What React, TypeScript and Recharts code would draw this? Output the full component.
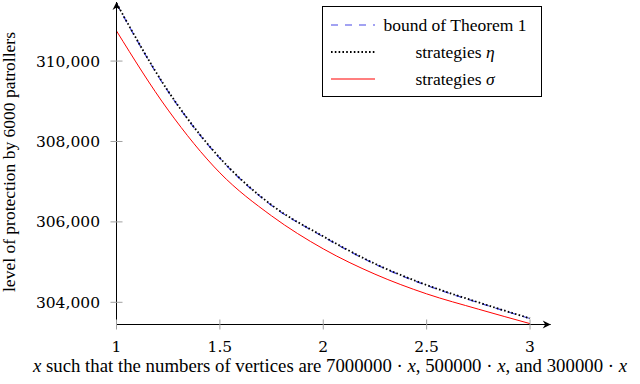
import { LineChart, Line, XAxis, YAxis } from "recharts"

const xValues = [1, 1.25, 1.5, 1.75, 2, 2.25, 2.5, 2.75, 3]
const boundValues = [311430, 309240, 307580, 306410, 305630, 304950, 304420, 303990, 303595]
const etaValues = [311440, 309250, 307590, 306420, 305640, 304960, 304430, 304000, 303600]
const sigmaValues = [310750, 308780, 307220, 306150, 305330, 304700, 304210, 303830, 303470]

const xTicks = [1, 1.5, 2, 2.5, 3]
const yTicks = [304000, 306000, 308000, 310000]

const data = xValues.map((x, i) => ({
  x,
  bound: boundValues[i],
  eta: etaValues[i],
  sigma: sigmaValues[i],
}))

const serif = "'Liberation Serif', 'Times New Roman', serif"
const tickFont = "'DejaVu Serif', serif"

const XTick = (props: any) => {
  const { x, y, payload } = props
  return (
    <g>
      <line x1={x} x2={x} y1={y - 5} y2={y + 5} stroke="#a0a0a0" strokeWidth={1} />
      <text x={x} y={y + 27.5} textAnchor="middle" fontFamily={tickFont} fontSize={15.5} fill="#000">
        {payload.value}
      </text>
    </g>
  )
}

const YTick = (props: any) => {
  const { x, y, payload } = props
  return (
    <g>
      <line x1={x - 6} x2={x + 6} y1={y} y2={y} stroke="#a0a0a0" strokeWidth={1} />
      <text x={x - 16.5} y={y + 5.5} textAnchor="end" fontFamily={tickFont} fontSize={15.5} fill="#000">
        {payload.value.toLocaleString("en-US")}
      </text>
    </g>
  )
}

const legendItems = [
  { label: <>bound of Theorem 1</>, stroke: "#4646e6", dash: "7 7", width: 1.2 },
  { label: <>strategies <tspan fontStyle="italic">η</tspan></>, stroke: "#000", dash: "1.6 2.2", width: 1.8 },
  { label: <>strategies <tspan fontStyle="italic">σ</tspan></>, stroke: "#ff0000", dash: undefined, width: 1.2 },
]

export default function App() {
  return (
    <div style={{ position: "relative", width: 640, height: 384, background: "#fff" }}>
      <style>{"body{margin:0}"}</style>
      <LineChart width={640} height={384} data={data} margin={{ top: 2, right: 89.3, bottom: 19.5, left: 16.5 }}>
        <defs>
          <marker id="arrowhead" markerWidth="12" markerHeight="12" refX="9" refY="5" orient="auto-start-reverse" markerUnits="userSpaceOnUse">
            <path d="M1,1 L9,5 L1,9 L3.5,5 Z" fill="#000" />
          </marker>
        </defs>
        <XAxis
          dataKey="x"
          type="number"
          domain={[1, 3.1]}
          ticks={xTicks}
          allowDataOverflow
          height={40}
          tickLine={false}
          tickSize={0}
          tickMargin={0}
          tick={XTick}
          axisLine={{ stroke: "#000", strokeWidth: 1, markerEnd: "url(#arrowhead)" }}
        />
        <YAxis
          type="number"
          domain={[303448, 311469]}
          ticks={yTicks}
          allowDataOverflow
          width={100}
          tickLine={false}
          tickSize={0}
          tickMargin={0}
          tick={YTick}
          axisLine={{ stroke: "#000", strokeWidth: 1, markerStart: "url(#arrowhead)" }}
        />
        <Line type="monotone" dataKey="bound" stroke="#4646e6" strokeWidth={1.2} strokeDasharray="7 7" dot={false} isAnimationActive={false} />
        <Line type="monotone" dataKey="eta" stroke="#000" strokeWidth={1.8} strokeDasharray="1.6 2.2" dot={false} isAnimationActive={false} />
        <Line type="monotone" dataKey="sigma" stroke="#ff0000" strokeWidth={1} dot={false} isAnimationActive={false} />
      </LineChart>

      <svg width={640} height={384} style={{ position: "absolute", left: 0, top: 0, pointerEvents: "none" }}>
        <text x={14.5} y={162} transform="rotate(-90 14.5 162)" textAnchor="middle" fontFamily={serif} fontSize={17.5} fill="#000">
          level of protection by 6000 patrollers
        </text>
        <text x={330} y={372} textAnchor="middle" fontFamily={serif} fontSize={18.8} fill="#000">
          <tspan fontStyle="italic">x</tspan> such that the numbers of vertices are 7000000 · <tspan fontStyle="italic">x</tspan>, 500000 · <tspan fontStyle="italic">x</tspan>, and 300000 · <tspan fontStyle="italic">x</tspan>
        </text>

        <rect x={322.5} y={6.5} width={219} height={90} fill="#fff" stroke="#000" strokeWidth={1} />
        {legendItems.map((item, i) => {
          const cy = 25 + i * 27
          return (
            <g key={i}>
              <line x1={331} x2={375} y1={cy} y2={cy} stroke={item.stroke} strokeWidth={item.width} strokeDasharray={item.dash} />
              <text x={455} y={cy + 5.5} textAnchor="middle" fontFamily={serif} fontSize={17.5} fill="#000">
                {item.label}
              </text>
            </g>
          )
        })}
      </svg>
    </div>
  )
}
